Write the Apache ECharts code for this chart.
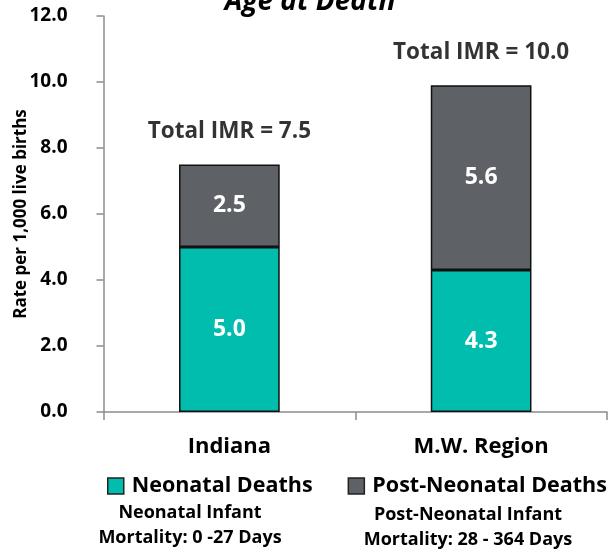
<!DOCTYPE html>
<html><head><meta charset="utf-8">
<script src="https://cdn.jsdelivr.net/npm/echarts@6/dist/echarts.min.js"></script>
<style>html,body{margin:0;padding:0;background:#fff}#c{width:616px;height:550px}</style>
</head><body><div id="c"></div>
<script>
const categories = ['Indiana', 'M.W. Region'];
const neonatal = [5.0, 4.3];
const postNeonatal = [2.5, 5.6];
const totalLabels = ['7.5', '10.0'];
const yTicks = [0, 2, 4, 6, 8, 10, 12];
const seriesNames = ['Neonatal Deaths', 'Post-Neonatal Deaths'];
const noteLeft = ['Neonatal Infant', 'Mortality: 0 -27 Days'];
const noteRight = ['Post-Neonatal Infant', 'Mortality: 28 - 364 Days'];

const F = '"Open Sans", sans-serif';
const TEAL = '#00BDAD', GRAY = '#5E6166';
const chart = echarts.init(document.getElementById('c'));
chart.setOption({
  animation: false,
  backgroundColor: '#fff',
  title: {
    text: 'Age at Death', left: 305, top: -17, textAlign: 'center',
    textStyle: { fontFamily: F, fontSize: 28, fontWeight: 'bold', fontStyle: 'italic', color: '#000' }
  },
  grid: { left: 103.5, right: 9, top: 16, bottom: 138, containLabel: false, outerBoundsMode: 'none' },
  legend: {
    data: seriesNames, left: 107, top: 475, width: 540, padding: 0, itemGap: 35, itemWidth: 16, itemHeight: 16, icon: 'rect',
    textStyle: { fontFamily: F, fontSize: 21.5, fontWeight: 'bold', color: '#000', padding: [0, 0, 0, 3] },
    itemStyle: { borderColor: '#222', borderWidth: 1.5 }
  },
  xAxis: {
    type: 'category', data: categories,
    axisLine: { lineStyle: { color: '#8c8c8c', width: 1.5 } },
    axisTick: { show: true, length: 8, lineStyle: { color: '#8c8c8c', width: 1.5 } },
    axisLabel: { fontFamily: F, fontSize: 22, fontWeight: 'bold', color: '#000', margin: 24 }
  },
  yAxis: {
    type: 'value', min: 0, max: 12, interval: 2,
    name: 'Rate per 1,000 live births', nameLocation: 'middle', nameGap: 74, nameRotate: 90,
    nameMoveOverlap: false,
    nameTextStyle: { fontFamily: F, fontSize: 17, fontWeight: 'bold', color: '#000' },
    axisLine: { show: true, lineStyle: { color: '#8c8c8c', width: 1.5 } },
    axisTick: { show: true, length: 7, lineStyle: { color: '#8c8c8c', width: 1.5 } },
    splitLine: { show: false },
    axisLabel: {
      fontFamily: F, fontSize: 19, fontWeight: 'bold', color: '#000', margin: 36,
      formatter: v => yTicks.includes(v) ? v.toFixed(1) : ''
    }
  },
  series: [
    {
      name: seriesNames[0], type: 'bar', stack: 't', data: neonatal, barWidth: '40%',
      itemStyle: { color: TEAL, borderColor: '#111', borderWidth: 1.5 },
      label: { show: true, position: 'inside', formatter: p => p.value.toFixed(1),
        fontFamily: F, fontSize: 23, fontWeight: 'bold', color: '#fff' }
    },
    {
      name: seriesNames[1], type: 'bar', stack: 't', data: postNeonatal, barWidth: '40%',
      itemStyle: { color: GRAY, borderColor: '#111', borderWidth: 1.5 },
      label: { show: true, position: 'inside', formatter: p => p.value.toFixed(1),
        fontFamily: F, fontSize: 23, fontWeight: 'bold', color: '#fff' }
    },
    {
      name: 'totals', type: 'scatter', symbolSize: 0, silent: true,
      data: neonatal.map((v, i) => v + postNeonatal[i]),
      label: { show: true, position: 'top', distance: 21,
        formatter: p => 'Total IMR = ' + totalLabels[p.dataIndex],
        fontFamily: F, fontSize: 22.5, fontWeight: 'bold', color: '#000' }
    }
  ],
  graphic: [
    { type: 'text', x: 190, y: 500,
      style: { text: noteLeft.join('\n'), align: 'center', verticalAlign: 'top', font: 'bold 18px ' + F, fill: '#000', lineHeight: 25 } },
    { type: 'text', x: 468, y: 502,
      style: { text: noteRight.join('\n'), align: 'center', verticalAlign: 'top', font: 'bold 18px ' + F, fill: '#000', lineHeight: 25 } }
  ]
});
</script></body></html>
